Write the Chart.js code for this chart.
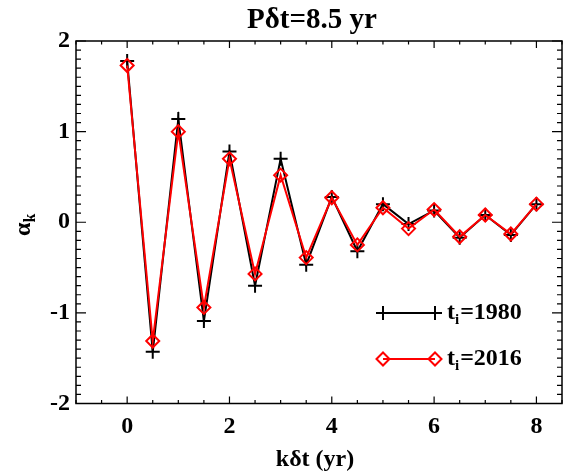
<!DOCTYPE html>
<html>
<head>
<meta charset="utf-8">
<script src="https://cdn.jsdelivr.net/npm/chart.js@4.4.1/dist/chart.umd.min.js"></script>
<style>
  html, body { margin: 0; padding: 0; background: #fff; }
  #wrap { width: 572px; height: 472px; }
</style>
</head>
<body>
<div id="wrap"><canvas id="graphCanvas" width="572" height="472"></canvas></div>
<script>
// lag values k*dt (yr)
var lags = [0, 0.5, 1, 1.5, 2, 2.5, 3, 3.5, 4, 4.5, 5, 5.5, 6, 6.5, 7, 7.5, 8];
// alpha_k for t_i = 1980
var alpha1980 = [1.78, -1.43, 1.14, -1.09, 0.78, -0.70, 0.70, -0.47, 0.28, -0.32, 0.20, -0.02, 0.13, -0.17, 0.08, -0.14, 0.20];
// alpha_k for t_i = 2016
var alpha2016 = [1.73, -1.31, 1.00, -0.94, 0.70, -0.57, 0.52, -0.39, 0.27, -0.25, 0.16, -0.07, 0.14, -0.16, 0.08, -0.13, 0.20];

var xTicks = [0, 2, 4, 6, 8];
var yTicks = [-2, -1, 0, 1, 2];

var FONT = "'Liberation Serif', 'Times New Roman', serif";

function pts(ys) {
    var out = [];
    for (var i in lags) {
        out.push({x: lags[i], y: ys[i]});
    }
    return out;
}

// frame, inward ticks, title, axis titles and legend (IDL style)
var idlDecor = {
    id: 'idlDecor',
    afterDraw: function(chart) {
        var ctx = chart.ctx;
        var a = chart.chartArea;
        var xs = chart.scales.x, ys = chart.scales.y;
        ctx.save();
        ctx.strokeStyle = '#000';
        ctx.lineWidth = 1.5;
        ctx.strokeRect(a.left, a.top, a.right - a.left, a.bottom - a.top);

        ctx.lineWidth = 1.2;
        ctx.beginPath();
        // x ticks every 0.5, major at the labelled ones
        for (var v = -1; v <= 8.5001; v += 0.5) {
            var px = xs.getPixelForValue(v);
            var len = xTicks.indexOf(Math.round(v * 2) / 2) >= 0 ? 7 : 3.5;
            ctx.moveTo(px, a.bottom); ctx.lineTo(px, a.bottom - len);
            ctx.moveTo(px, a.top); ctx.lineTo(px, a.top + len);
        }
        // y ticks every 0.1
        for (var k = -20; k <= 20; k++) {
            var py = ys.getPixelForValue(k / 10);
            var l2 = (k % 10 === 0) ? 10 : 5;
            ctx.moveTo(a.left, py); ctx.lineTo(a.left + l2, py);
            ctx.moveTo(a.right, py); ctx.lineTo(a.right - l2, py);
        }
        ctx.stroke();

        ctx.fillStyle = '#000';
        // title
        ctx.font = 'bold 29px ' + FONT;
        ctx.textAlign = 'center';
        ctx.textBaseline = 'alphabetic';
        ctx.fillText('P\u03b4t=8.5 yr', 312, 28);

        // x title
        ctx.font = 'bold 24px ' + FONT;
        ctx.fillText('k\u03b4t (yr)', 315, 466);

        // y title alpha_k
        ctx.save();
        ctx.translate(30, 236);
        ctx.rotate(-Math.PI / 2);
        ctx.textAlign = 'left';
        ctx.font = 'bold 24px ' + FONT;
        ctx.fillText('\u03b1', 0, 0);
        var w = ctx.measureText('\u03b1').width;
        ctx.font = 'bold 16px ' + FONT;
        ctx.fillText('k', w, 5);
        ctx.restore();

        // legend
        var rows = [
            {y: 313, color: '#000', year: '1980', style: 'cross'},
            {y: 359, color: '#ff0000', year: '2016', style: 'rectRot'}
        ];
        for (var r in rows) {
            var row = rows[r];
            ctx.strokeStyle = row.color;
            ctx.lineWidth = 2;
            ctx.beginPath();
            ctx.moveTo(383, row.y); ctx.lineTo(435, row.y);
            ctx.stroke();
            ctx.fillStyle = 'rgba(0,0,0,0)';
            var opt = {pointStyle: row.style, radius: row.style === 'cross' ? 7 : 6.5, borderWidth: 2, rotation: 0};
            Chart.helpers.drawPoint(ctx, opt, 383, row.y);
            Chart.helpers.drawPoint(ctx, opt, 435, row.y);
            ctx.textAlign = 'left';
            ctx.font = 'bold 24px ' + FONT;
            ctx.fillStyle = '#000';
            ctx.fillText('t', 447, row.y + 6);
            var tw = ctx.measureText('t').width;
            ctx.font = 'bold 15px ' + FONT;
            ctx.fillText('i', 447 + tw, row.y + 11);
            var iw = ctx.measureText('i').width;
            ctx.font = 'bold 24px ' + FONT;
            ctx.fillText('=' + row.year, 447 + tw + iw + 1, row.y + 6);
        }
        ctx.restore();
    }
};

var chartdata = {
    datasets: [
        {
            label: 't_i=2016',
            data: pts(alpha2016),
            borderColor: '#ff0000',
            backgroundColor: 'rgba(0,0,0,0)',
            borderWidth: 2,
            pointStyle: 'rectRot',
            pointRadius: 6.5,
            pointBorderWidth: 2,
            pointBorderColor: '#ff0000',
            pointBackgroundColor: 'rgba(0,0,0,0)',
            tension: 0,
            order: 1
        },
        {
            label: 't_i=1980',
            data: pts(alpha1980),
            borderColor: '#000000',
            backgroundColor: 'rgba(0,0,0,0)',
            borderWidth: 2,
            pointStyle: 'cross',
            pointRadius: 7,
            pointBorderWidth: 2,
            pointBorderColor: '#000000',
            tension: 0,
            order: 2
        }
    ]
};

var graphTarget = document.getElementById('graphCanvas');
var lineGraph = new Chart(graphTarget, {
    type: 'line',
    data: chartdata,
    options: {
        responsive: false,
        animation: false,
        devicePixelRatio: 1,
        layout: { padding: { top: 41, right: 10, left: 0, bottom: 0 } },
        plugins: {
            legend: { display: false },
            title: { display: false },
            tooltip: { enabled: false }
        },
        scales: {
            x: {
                type: 'linear',
                min: -1,
                max: 8.5,
                grid: { display: false, drawTicks: false },
                border: { display: false },
                afterBuildTicks: function(s) { s.ticks = xTicks.map(function(v) { return {value: v}; }); },
                afterFit: function(s) { s.height = 68.5; },
                ticks: {
                    padding: 9,
                    color: '#000',
                    font: { family: FONT, size: 24, weight: 'bold' },
                    maxRotation: 0
                }
            },
            y: {
                type: 'linear',
                min: -2,
                max: 2,
                grid: { display: false, drawTicks: false },
                border: { display: false },
                afterBuildTicks: function(s) { s.ticks = yTicks.map(function(v) { return {value: v}; }); },
                afterFit: function(s) { s.width = 76; },
                ticks: {
                    padding: 6,
                    color: '#000',
                    font: { family: FONT, size: 24, weight: 'bold' }
                }
            }
        }
    },
    plugins: [idlDecor]
});
</script>
</body>
</html>
